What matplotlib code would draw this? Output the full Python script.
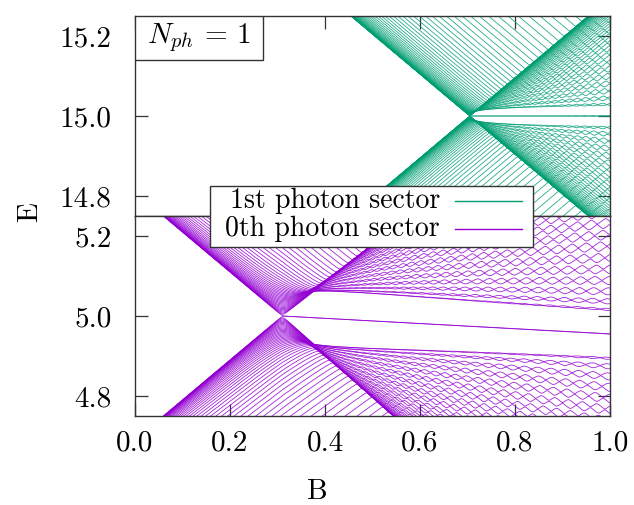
import numpy as np
import matplotlib
matplotlib.use("Agg")
import matplotlib.pyplot as plt
from matplotlib.patches import Rectangle
from matplotlib.lines import Line2D
from matplotlib.ticker import FormatStrFormatter

plt.rcParams['font.family'] = 'serif'
plt.rcParams['font.serif'] = ['cmr10']
plt.rcParams['mathtext.fontset'] = 'cm'
plt.rcParams['axes.unicode_minus'] = False

# field axis
b_field = np.linspace(0.0, 1.0, 301)
b_ticks = [0.0, 0.2, 0.4, 0.6, 0.8, 1.0]

# one entry per photon sector, top panel first
sector_labels = ["1st photon sector", "0th photon sector"]
sector_energy = [15.0, 5.0]       # energy where the gap closes
sector_gap = [0.705, 0.31]        # field where the gap closes
sector_soc = [0.00058, 0.0029]    # spin-orbit strength
sector_drift = [0.0, -0.065]      # slope of the mid-gap level after closing
sector_colors = ["#009e73", "#9400d3"]
sector_yticks = [[14.8, 15.0, 15.2], [4.8, 5.0, 5.2]]
half_window = 0.25

# wire in a box, lowest modes only
n_modes = 80
kinetic = 2.8e-4


def wire_levels(gap, soc):
    n = np.arange(1, n_modes + 1)
    kin = np.diag(kinetic * n ** 2)
    mm, nn = np.meshgrid(n, n, indexing='ij')
    odd = (mm + nn) % 2 == 1
    deriv = np.zeros((n_modes, n_modes))
    deriv[odd] = 4 * mm[odd] * nn[odd] / (np.pi * (mm[odd] ** 2 - nn[odd] ** 2))
    eye = np.eye(n_modes)
    zero = np.zeros_like(eye)
    so = np.block([[zero, -deriv], [deriv, zero]])
    h_e = np.kron(np.eye(2), kin) + soc * so
    zee = np.kron(np.array([[0.0, 1.0], [1.0, 0.0]]), eye)
    one = np.eye(2 * n_modes)
    h0 = np.block([[h_e, gap * one], [gap * one, -h_e]])
    hz = np.block([[zee, 0 * one], [0 * one, zee]])
    levels = np.empty((len(b_field), 4 * n_modes))
    for i, b in enumerate(b_field):
        levels[i] = np.linalg.eigvalsh(h0 + b * hz)
    return levels


fig = plt.figure(figsize=(6.34, 5.05), dpi=100)
ax_top = fig.add_axes([135 / 634, 289 / 505, 475 / 634, 200 / 505])
ax_bot = fig.add_axes([135 / 634, 89 / 505, 475 / 634, 200 / 505])

for k, ax in enumerate([ax_top, ax_bot]):
    lev = wire_levels(sector_gap[k], sector_soc[k])
    lev = lev + sector_drift[k] * np.clip(b_field - sector_gap[k], 0, None)[:, None]
    keep = np.any(np.abs(lev) < half_window + 0.05, axis=0)
    ax.plot(b_field, lev[:, keep] + sector_energy[k], color=sector_colors[k],
            lw=0.6, alpha=0.85)
    ax.set_xlim(0, 1)
    ax.set_ylim(sector_energy[k] - half_window, sector_energy[k] + half_window)
    ax.set_yticks(sector_yticks[k])
    ax.yaxis.set_major_formatter(FormatStrFormatter('%.1f'))
    ax.set_xticks(b_ticks)
    for s in ax.spines.values():
        s.set_color('#333333')
        s.set_linewidth(1.0)
    ax.tick_params(axis='y', direction='in', length=9, width=0.9, color='#333333',
                   labelsize=21, pad=17, right=True)

ax_top.tick_params(axis='x', direction='in', length=9, width=0.9, color='#333333',
                   top=True, bottom=False, labelbottom=False)
ax_bot.tick_params(axis='x', direction='in', length=9, width=0.9, color='#333333',
                   top=False, bottom=True, labelsize=21, pad=10)
ax_bot.xaxis.set_major_formatter(FormatStrFormatter('%.1f'))

# N_ph box
ax_top.add_patch(Rectangle((0, 0.78), 0.27, 0.22, transform=ax_top.transAxes,
                           fc='white', ec='#333333', lw=1.0, zorder=5))
ax_top.text(0.135, 0.89, r'$N_{ph}$ = 1', transform=ax_top.transAxes,
            ha='center', va='center', fontsize=21, zorder=6)

# legend straddling both panels
fig.add_artist(Rectangle((210 / 634, 1 - 247 / 505), 323 / 634, 61 / 505,
                         transform=fig.transFigure, fc='white', ec='#333333',
                         lw=1.0, zorder=10))
for k, y in enumerate([201, 229]):
    fy = 1 - y / 505
    fig.text(440 / 634, fy, sector_labels[k], ha='right', va='center',
             fontsize=20, zorder=11)
    fig.add_artist(Line2D([455 / 634, 522 / 634], [fy, fy], transform=fig.transFigure,
                          color=sector_colors[k], lw=1.0, zorder=11))

fig.text(30 / 634, 1 - 212 / 505, 'E', rotation=90, ha='center', va='center', fontsize=21)
fig.text(317 / 634, 1 - 492 / 505, 'B', ha='center', va='center', fontsize=21)

fig.savefig('out.png', dpi=100)
